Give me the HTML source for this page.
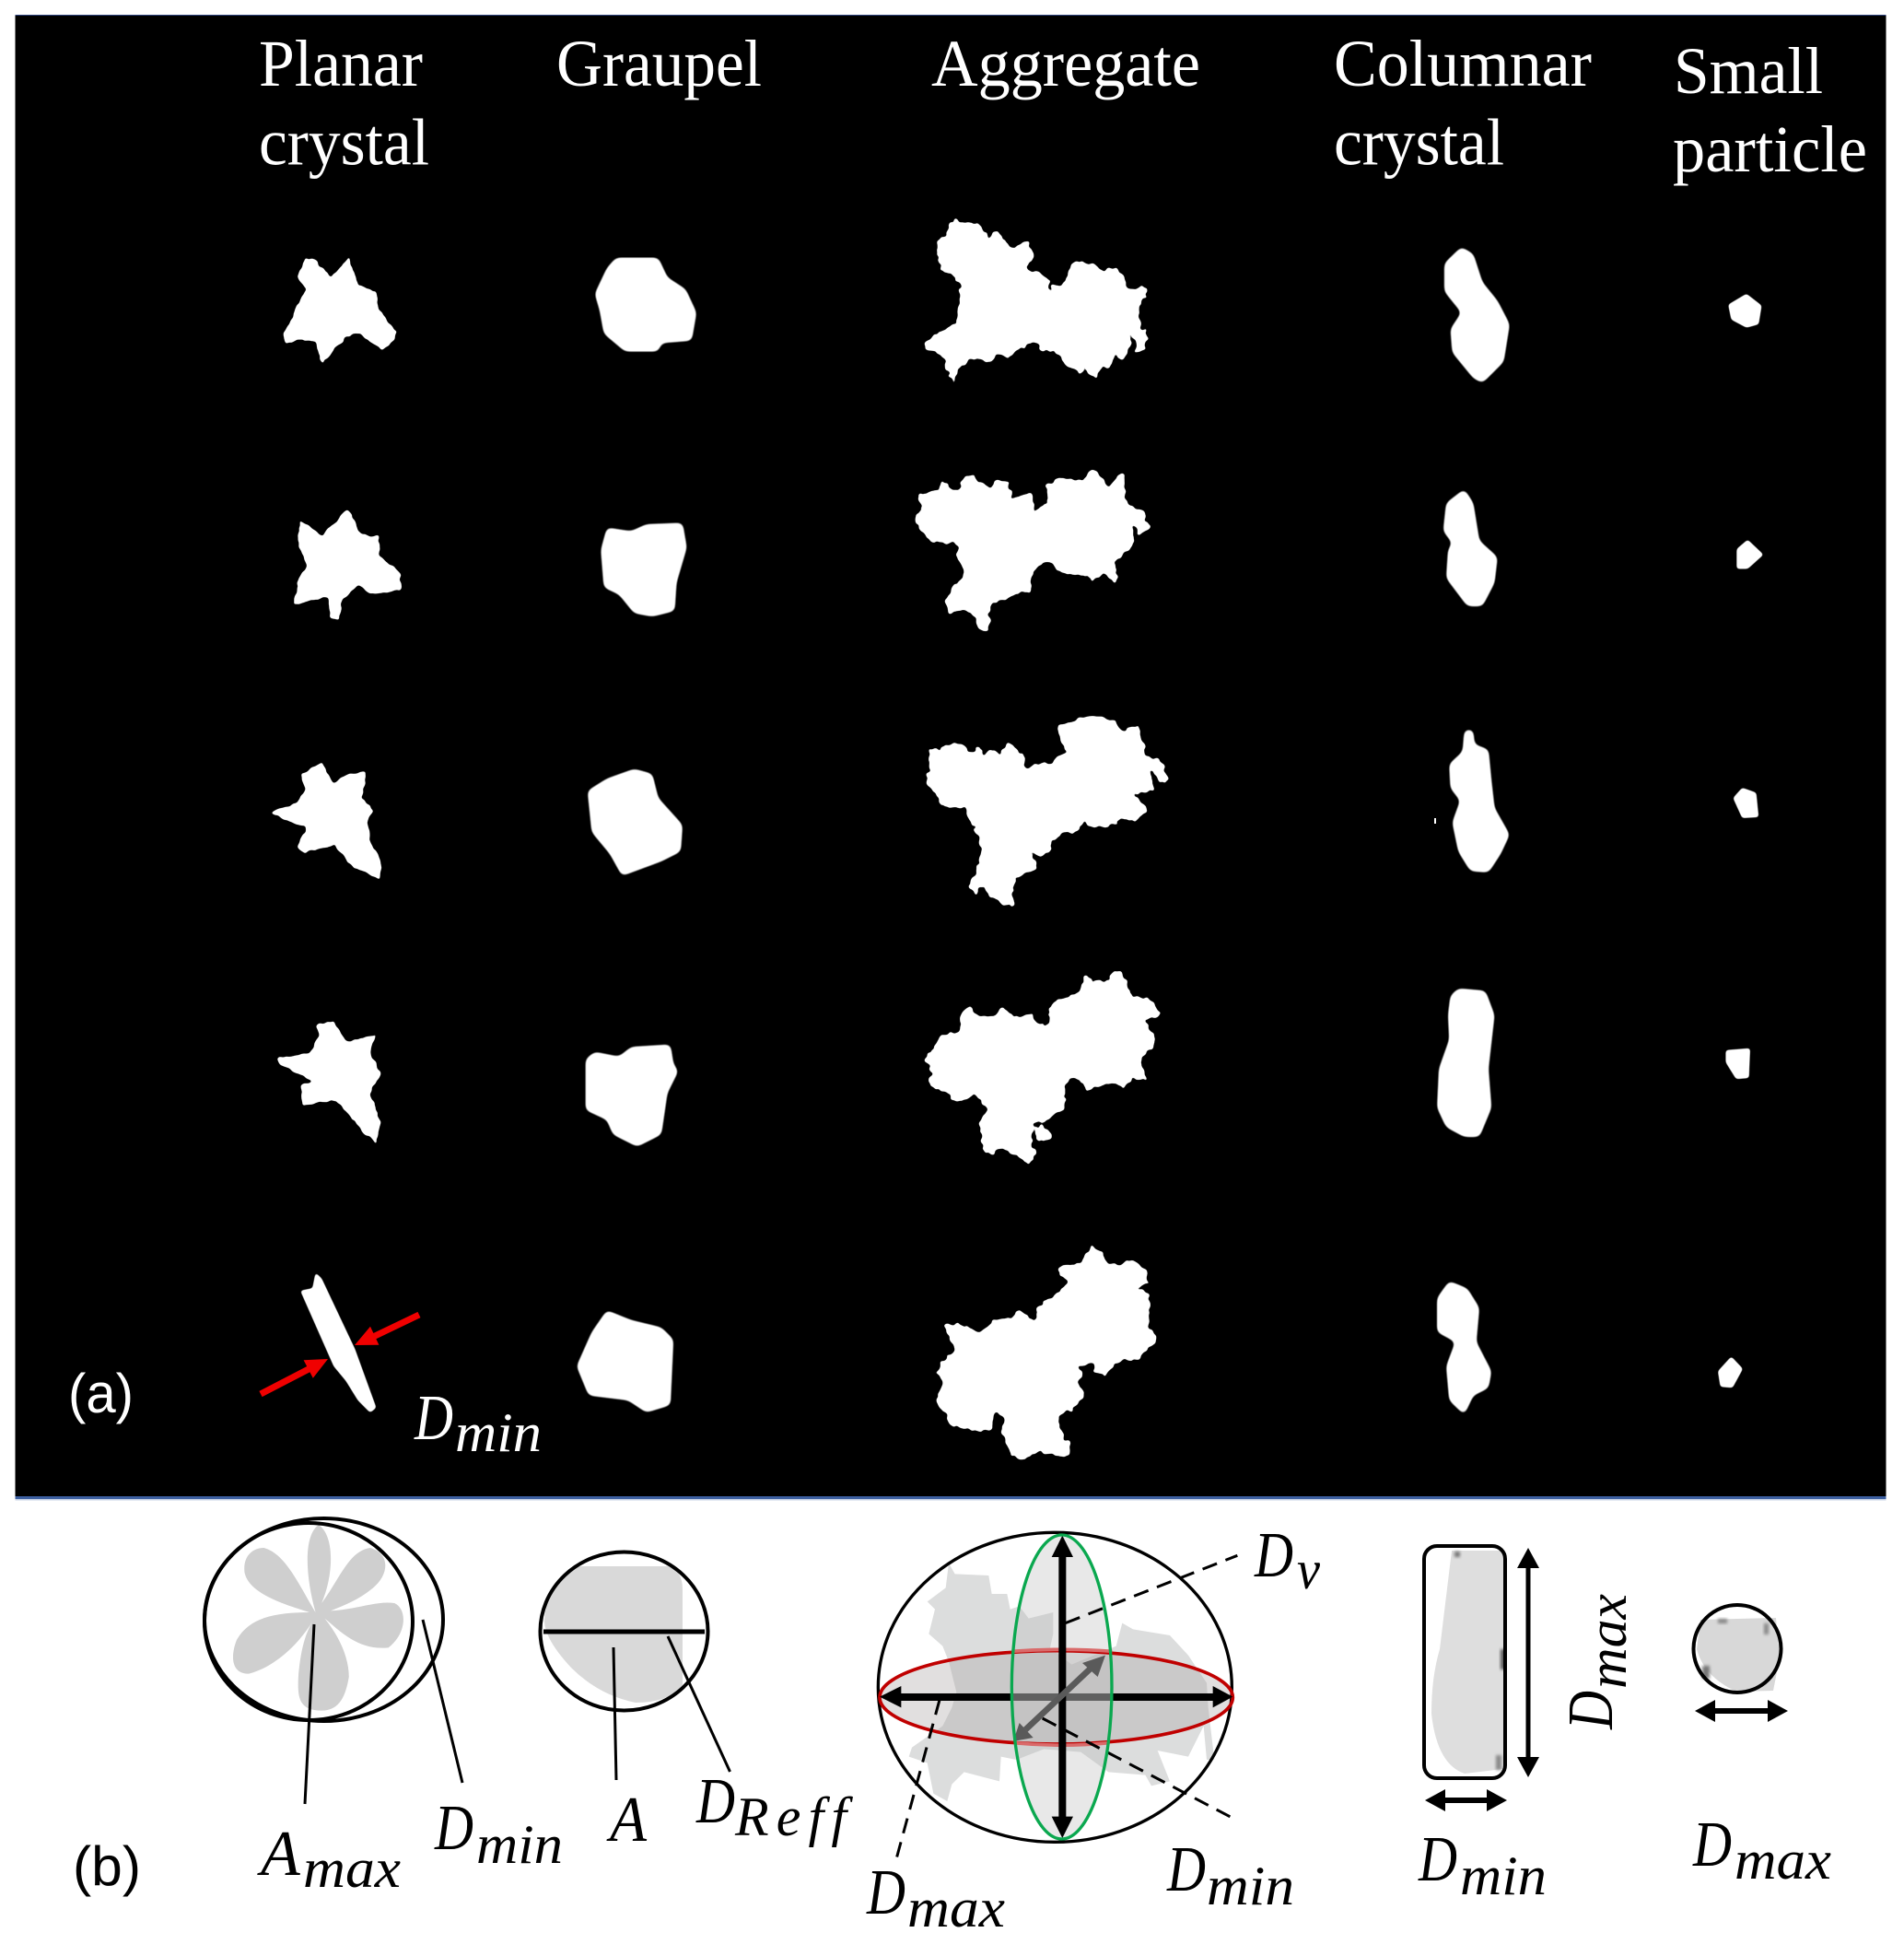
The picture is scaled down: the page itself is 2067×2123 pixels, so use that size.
<!DOCTYPE html>
<html><head><meta charset="utf-8"><style>
html,body{margin:0;padding:0;background:#fff}
svg{display:block}
.w{fill:#fff}
.t{font-family:"Liberation Serif",serif;font-size:72px;fill:#fff}
.i{font-family:"Liberation Serif",serif;font-style:italic;fill:#000;font-size:70px}
.s{font-size:60px}
.l{stroke:#000;stroke-width:3;fill:none}
.o{fill:none;stroke:#000;stroke-width:4}
</style></head><body>
<svg width="2067" height="2123" viewBox="0 0 2067 2123" xmlns="http://www.w3.org/2000/svg">
<defs>
<filter id="rough" x="-10%" y="-10%" width="120%" height="120%" color-interpolation-filters="sRGB">
<feTurbulence type="fractalNoise" baseFrequency="0.13" numOctaves="2" seed="4" result="n"/>
<feDisplacementMap in="SourceGraphic" in2="n" scale="9" xChannelSelector="R" yChannelSelector="G"/>
<feGaussianBlur stdDeviation="1.3"/>
<feComponentTransfer><feFuncA type="linear" slope="5" intercept="-2"/></feComponentTransfer>
</filter>
<filter id="rough2" x="-10%" y="-10%" width="120%" height="120%" color-interpolation-filters="sRGB">
<feTurbulence type="fractalNoise" baseFrequency="0.12" numOctaves="2" seed="9" result="n"/>
<feDisplacementMap in="SourceGraphic" in2="n" scale="5" xChannelSelector="R" yChannelSelector="G"/>
<feGaussianBlur stdDeviation="1.3"/>
<feComponentTransfer><feFuncA type="linear" slope="5" intercept="-2"/></feComponentTransfer>
</filter>
<filter id="smooth" x="-10%" y="-10%" width="120%" height="120%" color-interpolation-filters="sRGB">
<feGaussianBlur stdDeviation="3.5"/>
<feComponentTransfer><feFuncA type="linear" slope="5" intercept="-2"/></feComponentTransfer>
</filter>
<filter id="smooth2" x="-10%" y="-10%" width="120%" height="120%" color-interpolation-filters="sRGB">
<feGaussianBlur stdDeviation="1.6"/>
<feComponentTransfer><feFuncA type="linear" slope="4" intercept="-1.4"/></feComponentTransfer>
</filter>
<filter id="soft" x="-40%" y="-40%" width="180%" height="180%"><feGaussianBlur stdDeviation="1.6"/></filter>
</defs>
<rect width="2067" height="2123" fill="#fff"/>
<rect x="16.5" y="16" width="2031" height="1.2" fill="#2a3f7a"/>
<rect x="16.5" y="17" width="2031" height="1607" fill="#000"/>
<rect x="16.5" y="1624" width="2031" height="3" fill="#3c5fa0"/>
<rect x="16.5" y="1627" width="2031" height="1.5" fill="#c5d0e4"/>

<text class="t" x="281" y="93" textLength="178" lengthAdjust="spacingAndGlyphs">Planar</text>
<text class="t" x="281" y="178.5" textLength="185" lengthAdjust="spacingAndGlyphs">crystal</text>
<text class="t" x="604" y="93" textLength="223" lengthAdjust="spacingAndGlyphs">Graupel</text>
<text class="t" x="1011" y="93" textLength="292" lengthAdjust="spacingAndGlyphs">Aggregate</text>
<text class="t" x="1448" y="93" textLength="280" lengthAdjust="spacingAndGlyphs">Columnar</text>
<text class="t" x="1448" y="178.5" textLength="185" lengthAdjust="spacingAndGlyphs">crystal</text>
<text class="t" x="1817" y="101" textLength="162" lengthAdjust="spacingAndGlyphs">Small</text>
<text class="t" x="1816" y="186" textLength="211" lengthAdjust="spacingAndGlyphs">particle</text>

<g filter="url(#rough2)"><g transform="scale(.65876,.5102)" class="w">
<polygon points="505,550 520,552 545,590 575,548 590,605 620,620 625,660 655,705 650,725 630,745 595,710 570,715 530,775 520,725 490,720 470,735 467,712 495,640 505,615 490,590"/>
<polygon points="570,1085 580,1095 590,1130 605,1140 625,1140 625,1180 660,1220 660,1255 610,1265 590,1245 565,1275 558,1318 545,1315 540,1270 485,1285 490,1240 505,1205 490,1150 495,1105 530,1140 555,1110"/>
</g></g>
<g filter="url(#smooth)"><g transform="scale(.65876,.5102)" class="w">
<polygon points="1015,548 1085,548 1100,590 1130,615 1148,665 1140,725 1090,730 1085,748 1030,748 995,710 988,660 980,625 1000,570"/>
<polygon points="1000,1122 1040,1130 1065,1115 1125,1112 1132,1165 1115,1240 1112,1300 1075,1312 1045,1305 1020,1265 995,1250 990,1170"/>
</g></g>
<g filter="url(#rough2)"><g transform="translate(0,800) scale(.65876,.5294)" class="w">
<polygon points="530,52 550,95 575,75 605,72 595,125 615,150 605,175 610,210 628,255 625,290 580,265 550,220 500,238 490,225 505,185 470,170 445,155 490,135 505,105 495,75"/>
<polygon points="550,582 570,625 620,610 610,650 628,690 610,730 628,790 620,835 585,790 555,745 498,755 495,715 515,705 460,670 458,658 510,650 525,610 520,590"/>
</g></g>
<g filter="url(#smooth)"><g transform="translate(0,800) scale(.65876,.5294)" class="w">
<polygon points="1045,65 1075,75 1085,125 1125,180 1122,235 1090,255 1025,285 1005,240 975,195 968,110 1000,85"/>
<polygon points="1105,630 1110,670 1118,685 1100,730 1090,815 1050,840 1010,815 1000,785 965,765 965,660 980,645 1020,655 1040,635"/>
<polygon points="1000,1175 1040,1195 1090,1210 1110,1235 1105,1370 1065,1385 1035,1360 970,1350 950,1290 975,1220"/>
</g></g>
<g filter="url(#smooth2)"><g transform="translate(0,800) scale(.65876,.5294)" class="w">
<polygon points="520,1098 530,1110 585,1255 620,1375 610,1385 590,1360 570,1320 550,1290 495,1135 515,1130"/>
</g></g>
<g filter="url(#smooth)"><g transform="translate(1033,0) scale(.65876,.5102)" class="w">
<polygon points="840,525 860,540 875,600 900,640 920,690 910,770 875,815 860,805 825,750 822,700 840,665 812,620 812,560"/>
<polygon points="845,1040 860,1070 870,1150 900,1185 895,1240 875,1290 850,1290 815,1230 818,1170 825,1155 810,1130 815,1070"/>
</g></g>
<g filter="url(#smooth2)"><g transform="translate(1033,0) scale(.65876,.5102)" class="w">
<polygon points="1310,625 1335,650 1330,690 1310,697 1285,680 1280,648"/>
<polygon points="1312,1148 1338,1180 1312,1210 1294,1210 1294,1168"/>
</g></g>
<g filter="url(#smooth)"><g transform="translate(1033,800) scale(.65876,.5294)" class="w">
<polygon points="845,-15 860,-15 862,15 885,25 890,90 895,145 920,200 905,240 885,278 855,275 835,235 825,175 838,130 822,105 820,55 842,30"/>
<polygon points="835,515 880,520 895,570 885,680 890,760 870,820 845,820 815,800 800,760 803,680 820,620 818,570 822,530"/>
<polygon points="820,1115 850,1130 870,1170 865,1240 890,1300 885,1335 860,1350 845,1390 820,1360 815,1290 830,1240 800,1220 800,1150"/>
</g></g>
<g filter="url(#smooth2)"><g transform="translate(1033,800) scale(.65876,.5294)" class="w">
<polygon points="1303,104 1326,114 1330,164 1303,166 1288,125"/>
<polygon points="1276,642 1316,638 1314,699 1293,701 1276,667"/>
<polygon points="1285,1270 1304,1295 1287,1334 1267,1332 1263,1300"/>
</g></g>
<rect x="1557" y="888" width="2" height="6" fill="#fff"/>

<g filter="url(#rough)">
<g transform="translate(960,210) scale(.33333)" class="w"><polygon points="232,75 245,98 262,98 272,103 305,92 322,115 340,150 358,120 372,125 385,145 420,178 440,172 470,155 480,185 493,210 470,235 465,250 505,252 530,280 545,282 532,325 552,300 590,290 610,228 625,220 680,228 710,252 755,242 785,285 795,312 855,305 858,335 825,375 830,420 860,470 850,510 825,522 812,465 805,450 795,520 780,545 750,525 735,570 710,560 690,600 665,590 655,560 640,585 605,565 580,545 550,510 510,510 485,480 440,505 405,540 360,520 350,550 310,545 275,535 240,575 225,622 208,590 195,540 170,515 135,510 130,495 160,458 190,450 235,420 240,380 248,340 250,305 215,258 180,250 182,210 170,190 170,148 200,135 218,85"/></g>
<g transform="translate(960,490) scale(.33333)" class="w"><polygon points="110,140 170,125 190,92 220,120 240,128 255,88 295,78 305,100 345,120 362,95 405,98 412,148 480,140 490,205 500,180 535,165 525,105 575,85 650,95 665,58 700,70 730,115 770,70 785,80 780,150 810,180 840,190 865,250 825,268 808,232 815,300 780,325 755,365 752,420 735,420 715,398 680,428 660,405 625,405 575,390 515,355 485,395 470,450 400,480 350,490 335,588 310,580 280,520 235,515 210,525 195,490 260,395 240,350 240,305 190,290 150,292 120,260 98,220 120,190"/></g>
<g transform="translate(960,760) scale(.33333)" class="w"><polygon points="145,148 180,165 225,138 265,148 280,175 300,155 330,175 355,160 375,175 405,140 450,175 462,225 480,210 550,205 565,180 598,175 580,145 565,85 625,65 690,50 755,70 775,100 830,85 840,140 860,180 905,205 930,255 910,272 865,225 880,295 810,305 855,355 820,395 770,385 750,405 710,420 650,395 620,435 590,425 550,460 540,500 505,510 470,495 505,545 430,575 415,625 428,670 400,670 335,630 325,605 300,632 278,605 315,510 310,440 285,405 255,345 195,352 165,300 135,270 150,210"/></g>
<g transform="translate(960,1040) scale(.33333)" class="w"><polygon points="650,52 685,75 720,80 748,38 770,45 790,85 805,125 860,128 900,175 890,195 845,200 880,250 880,285 835,330 855,395 805,390 780,425 740,405 660,428 640,395 595,390 585,490 530,530 495,535 475,570 490,640 480,675 440,650 385,620 350,640 320,625 315,535 335,490 295,445 235,472 200,440 145,412 150,370 130,320 155,308 185,250 240,240 250,170 280,155 300,190 340,192 385,165 425,192 480,182 495,215 540,215 535,160 590,125 640,115"/><polygon points="490,550 515,540 545,570 525,600 495,585"/></g>
<g transform="translate(980,1330) scale(.33333)" class="w"><polygon points="612,55 630,75 650,90 675,130 695,130 745,108 790,145 805,190 762,200 810,235 800,325 832,378 790,410 770,438 725,435 690,460 665,490 625,470 615,445 570,460 585,475 570,520 595,550 550,600 505,625 525,690 545,710 545,748 515,755 445,735 385,765 350,740 325,680 325,615 305,610 285,668 240,670 150,645 110,565 130,505 110,480 130,440 168,410 135,322 170,318 250,350 295,310 355,300 380,275 420,300 430,312 445,265 535,190 505,145 520,125 580,122 610,85"/></g>
</g>

<!-- red arrows -->
<line x1="283" y1="1513" x2="337" y2="1485" stroke="#f00000" stroke-width="7"/>
<polygon points="356,1475 339.8,1495.8 329.6,1476.2" fill="#f00000"/>
<line x1="455" y1="1427" x2="405" y2="1451" stroke="#f00000" stroke-width="7"/>
<polygon points="385,1460 411.4,1459.8 402,1439.8" fill="#f00000"/>

<text x="74" y="1533" font-family="Liberation Sans, sans-serif" font-size="60" fill="#fff" textLength="71" lengthAdjust="spacingAndGlyphs">(a)</text>
<text class="i" x="450" y="1562" textLength="42" lengthAdjust="spacingAndGlyphs" style="fill:#fff">D</text>
<text class="i s" x="494" y="1575" textLength="94" lengthAdjust="spacingAndGlyphs" style="fill:#fff">min</text>

<!-- panel b, planar -->
<g transform="translate(0,1600) scale(.65876,.33333)">
<path fill="#cfcfcf" d="M520,450 C503,330 500,200 525,165 C552,200 550,330 530,420 C560,340 575,250 610,240 C645,260 640,330 615,370 C590,410 570,425 545,445 C590,440 620,412 650,420 C672,440 670,520 640,565 C590,575 560,510 535,470 C560,530 575,600 575,660 C570,720 560,770 530,770 C490,770 490,720 492,650 C495,590 500,530 515,480 C490,560 450,630 410,650 C380,650 380,590 390,540 C410,470 450,450 510,450 C470,425 410,390 403,320 C400,270 415,240 435,240 C470,260 490,350 520,450 Z"/>
</g>
<ellipse class="o" cx="335" cy="1760" rx="113" ry="107"/>
<ellipse class="o" cx="351.5" cy="1758" rx="129.5" ry="110"/>
<line class="l" x1="341" y1="1763" x2="331" y2="1958"/>
<line class="l" x1="459" y1="1758" x2="502" y2="1935"/>

<!-- graupel -->
<path fill="#d9d9d9" d="M622,1700 L725,1700 Q741,1705 741,1725 L741,1830 Q725,1848 690,1848 Q650,1840 620,1810 Q592,1780 591,1760 Q592,1720 622,1700Z"/>
<ellipse class="o" cx="677.5" cy="1770.5" rx="91" ry="86"/>
<line x1="590" y1="1771" x2="765" y2="1771" stroke="#000" stroke-width="5"/>
<line class="l" x1="666" y1="1788" x2="669" y2="1932"/>
<line class="l" x1="725" y1="1776" x2="792.5" y2="1923"/>

<!-- ellipsoid -->
<g transform="translate(930,1640) scale(.33333)">
<polygon fill="#dcdddd" points="300,170 320,205 430,210 440,270 490,270 500,320 530,310 560,350 640,330 640,400 630,445 700,500 845,440 865,365 900,385 1020,405 1080,470 1140,560 1145,640 1165,810 1140,810 1130,700 1080,800 980,780 1020,880 960,895 940,860 820,850 730,785 610,775 520,810 470,800 465,880 350,850 310,890 295,945 250,920 230,820 170,800 180,770 280,700 310,640 325,590 300,490 280,440 235,400 255,320 230,295 290,250"/>
<ellipse cx="650" cy="607" rx="575" ry="152" fill="#a8a4a4" fill-opacity=".35"/>
<ellipse cx="668" cy="573" rx="163" ry="495" fill="#b8b8b8" fill-opacity=".32"/>
<ellipse cx="646" cy="574" rx="576" ry="504" fill="none" stroke="#000" stroke-width="10"/>
<ellipse cx="650" cy="607" rx="575" ry="152" fill="none" stroke="#c00000" stroke-width="11"/>
<path d="M505,457 Q668,445 832,457 M512,755 Q668,770 822,755" fill="none" stroke="#d96a6a" stroke-width="11"/>
<g stroke="#000" stroke-width="9" stroke-dasharray="50 30" fill="none">
<line x1="680" y1="365" x2="1240" y2="145"/>
<line x1="605" y1="675" x2="1225" y2="1000"/>
<line x1="270" y1="615" x2="130" y2="1130"/>
</g>
<rect x="140" y="594" width="1025" height="24" fill="#000"/>
<polygon points="75,605 145,570 145,640" fill="#000"/>
<polygon points="1225,605 1160,570 1160,640" fill="#000"/>
<rect x="505" y="594" width="325" height="24" fill="#606060"/>
<rect x="658" y="140" width="24" height="870" fill="#000"/>
<polygon points="670,80 635,150 705,150" fill="#000"/>
<polygon points="670,1065 635,995 705,995" fill="#000"/>
<line x1="770" y1="505" x2="550" y2="712" stroke="#5a5a5a" stroke-width="20"/>
<polygon points="810,470 735,495 785,540" fill="#5a5a5a"/>
<polygon points="510,750 575,738 530,690" fill="#5a5a5a"/>
<ellipse cx="668" cy="573" rx="163" ry="495" fill="none" stroke="#0aa84f" stroke-width="10"/>
</g>

<!-- column -->
<path fill="#dedede" d="M1576,1683 L1630,1683 Q1634,1690 1634,1700 L1632,1920 L1590,1925 Q1560,1915 1554,1860 Q1554,1820 1563,1790 Z"/>
<rect x="1579" y="1684" width="6" height="6" fill="#777" filter="url(#soft)"/>
<rect x="1629" y="1790" width="5" height="22" fill="#555" filter="url(#soft)"/>
<rect x="1624" y="1905" width="6" height="16" fill="#888" filter="url(#soft)"/>
<rect class="o" x="1546" y="1678" width="88" height="252" rx="14"/>
<line x1="1659" y1="1695" x2="1659" y2="1915" stroke="#000" stroke-width="5"/>
<polygon points="1659,1680 1647,1702 1671,1702" fill="#000"/>
<polygon points="1659,1929 1647,1907 1671,1907" fill="#000"/>
<line x1="1560" y1="1954" x2="1622" y2="1954" stroke="#000" stroke-width="6"/>
<polygon points="1547,1954 1569,1942 1569,1966" fill="#000"/>
<polygon points="1636,1954 1614,1942 1614,1966" fill="#000"/>

<!-- small -->
<path fill="#d8d8d8" d="M1846,1758 L1928,1756 L1932,1800 L1925,1835 L1885,1836 Q1850,1820 1842,1790Z"/>
<rect x="1865" y="1757" width="10" height="5" fill="#888" filter="url(#soft)"/>
<rect x="1915" y="1762" width="5" height="12" fill="#888" filter="url(#soft)"/>
<rect x="1848" y="1808" width="8" height="14" fill="#777" filter="url(#soft)"/>
<circle class="o" cx="1886" cy="1789.5" r="47.5"/>
<line x1="1855" y1="1857" x2="1925" y2="1857" stroke="#000" stroke-width="6"/>
<polygon points="1840,1857 1862,1845 1862,1869" fill="#000"/>
<polygon points="1941,1857 1919,1845 1919,1869" fill="#000"/>

<text x="79" y="2046" font-family="Liberation Sans, sans-serif" font-size="60" fill="#000" textLength="74" lengthAdjust="spacingAndGlyphs">(b)</text>
<text class="i" x="283" y="2035">A</text><text class="i s" x="329" y="2048" textLength="106" lengthAdjust="spacingAndGlyphs">max</text>
<text class="i" x="472" y="2007" textLength="42" lengthAdjust="spacingAndGlyphs">D</text><text class="i s" x="517" y="2022" textLength="94" lengthAdjust="spacingAndGlyphs">min</text>
<text class="i" x="662" y="1998" textLength="40" lengthAdjust="spacingAndGlyphs">A</text>
<text class="i" x="756" y="1978" textLength="42" lengthAdjust="spacingAndGlyphs">D</text><text class="i s" x="798" y="1992" textLength="121" lengthAdjust="spacing">Reff</text>
<text class="i" x="941" y="2077" textLength="42" lengthAdjust="spacingAndGlyphs">D</text><text class="i s" x="985" y="2091" textLength="106" lengthAdjust="spacingAndGlyphs">max</text>
<text class="i" x="1267" y="2052" textLength="42" lengthAdjust="spacingAndGlyphs">D</text><text class="i s" x="1310" y="2067" textLength="95" lengthAdjust="spacingAndGlyphs">min</text>
<text class="i" x="1362" y="1711" textLength="42" lengthAdjust="spacingAndGlyphs">D</text><text class="i s" x="1408" y="1724" textLength="25" lengthAdjust="spacingAndGlyphs">v</text>
<text class="i" x="1540" y="2041" textLength="42" lengthAdjust="spacingAndGlyphs">D</text><text class="i s" x="1585" y="2056" textLength="94" lengthAdjust="spacingAndGlyphs">min</text>
<text class="i" x="1838" y="2025" textLength="42" lengthAdjust="spacingAndGlyphs">D</text><text class="i s" x="1883" y="2039" textLength="105" lengthAdjust="spacingAndGlyphs">max</text>
<text class="i" transform="translate(1750,1877) rotate(-90)" textLength="42" lengthAdjust="spacingAndGlyphs">D</text>
<text class="i s" transform="translate(1765,1833) rotate(-90)" textLength="103" lengthAdjust="spacingAndGlyphs">max</text>
</svg>
</body></html>
